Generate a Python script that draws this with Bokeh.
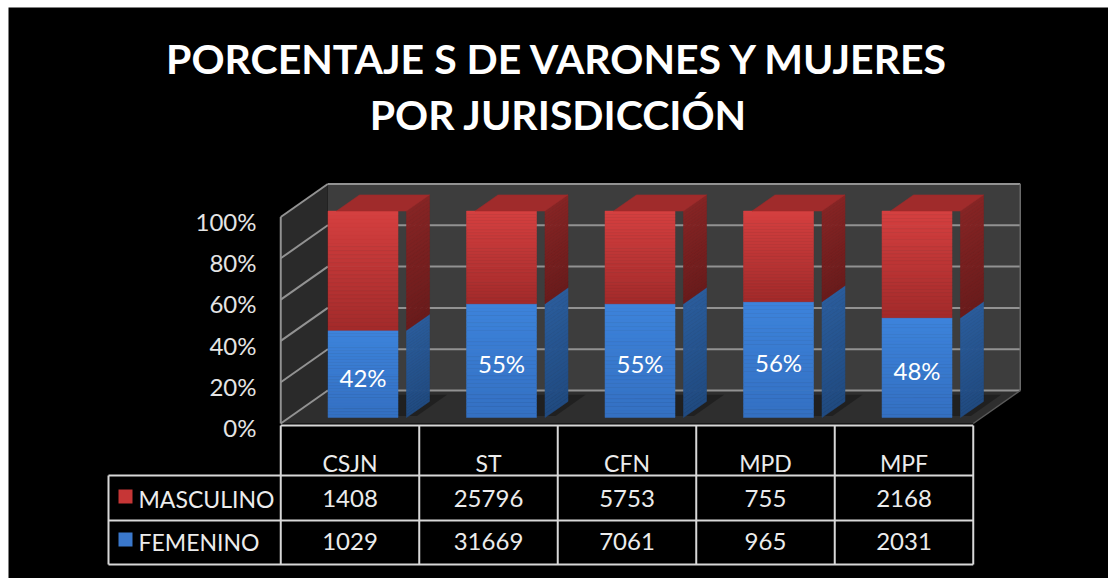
import numpy as np
from bokeh.plotting import figure
from bokeh.models import Range1d
from bokeh.core.properties import value
from bokeh.embed import file_html
from bokeh.resources import INLINE

# ---------------- data ----------------
categories = ["CSJN", "ST", "CFN", "MPD", "MPF"]
masculino = [1408, 25796, 5753, 755, 2168]
femenino = [1029, 31669, 7061, 965, 2031]
y_ticks = [0, 20, 40, 60, 80, 100]
series_names = ["MASCULINO", "FEMENINO"]
title_lines = ["PORCENTAJE S DE VARONES Y MUJERES", "POR JURISDICCIÓN"]

# ---------------- layout helpers ----------------
W_FIG, H_FIG = 1108, 578
ML, MT = 8, 7                  # white margin of the picture (left / top)
UX, UY = 138.5, 2.065          # px per category unit / px per percent
X0, Y0 = 349.5, 423.0          # canvas px of category 0 / 0% on front plane


def px(cx):
    return (cx - X0) / UX


def py(cy):
    return (Y0 - cy) / UY


DX, DY = 47.0 / UX, 33.0 / UY   # full depth offset (oblique projection)
ZF, ZB = 0.18, 0.67             # bar front / back depth
HALF_W = 35.0 / UX
SHIFT = 0.033


def proj(x, v, z):
    return x + z * DX, v + z * DY


def lerp_color(c1, c2, t):
    a = [int(c1[k:k + 2], 16) for k in (1, 3, 5)]
    b = [int(c2[k:k + 2], 16) for k in (1, 3, 5)]
    return "#%02x%02x%02x" % tuple(int(round(a[k] + (b[k] - a[k]) * t)) for k in range(3))


p = figure(width=W_FIG, height=H_FIG, output_backend="svg", toolbar_location=None,
           x_range=Range1d(px(ML), px(W_FIG)), y_range=Range1d(py(H_FIG), py(MT)),
           x_axis_location=None, y_axis_location=None, title=None,
           background_fill_color="#000000", border_fill_color="#ffffff",
           outline_line_color=None, min_border_left=ML, min_border_top=MT,
           min_border_right=0, min_border_bottom=0)
p.grid.visible = False

n_cat = len(categories)
xl, xr = -0.5, n_cat - 0.5
vmax = y_ticks[-1]

# ---------------- walls & floor ----------------
def poly(pts):
    xs, ys = zip(*[proj(*q) for q in pts])
    return list(xs), list(ys)

bx, by = poly([(xl, 0, 1), (xr, 0, 1), (xr, vmax, 1), (xl, vmax, 1)])
p.patch(bx, by, fill_color="#3d3d3d", line_color=None)
lx, ly = poly([(xl, 0, 0), (xl, 0, 1), (xl, vmax, 1), (xl, vmax, 0)])
p.patch(lx, ly, fill_color="#2a2a2a", line_color=None)
fx, fy = poly([(xl, 0, 0), (xr, 0, 0), (xr, 0, 1), (xl, 0, 1)])
p.patch(fx, fy, fill_color="#2e2e2e", line_color=None)

GRID = "#929292"
for v in y_ticks:
    x0, y0 = proj(xl, v, 1)
    x1, y1 = proj(xr, v, 1)
    p.line([x0, x1], [y0, y1], line_color=GRID, line_width=2)
    x2, y2 = proj(xl, v, 0)
    p.line([x2, x0], [y2, y0], line_color=GRID, line_width=2)
ex, ey = poly([(xl, 0, 0), (xl, vmax, 0)])
p.line(ex, ey, line_color=GRID, line_width=2)
ex, ey = poly([(xr, 0, 1), (xr, vmax, 1)])
p.line(ex, ey, line_color="#6a6a6a", line_width=1.5)
ex, ey = poly([(xr, 0, 0), (xr, 0, 1)])
p.line(ex, ey, line_color="#5a5a5a", line_width=1.5)

# ---------------- bars ----------------
RED_F = ("#d54040", "#a22a2a")
RED_S = ("#862424", "#6a1b1b")
RED_T = "#a02b2b"
BLUE_F = ("#3d83db", "#3470c2")
BLUE_S = ("#2a5c9b", "#204a80")
NB = 30

for i, cat in enumerate(categories):
    tot = masculino[i] + femenino[i]
    pf = femenino[i] / tot * 100.0
    c = i + SHIFT + ZF * DX
    xa, xb = c - HALF_W, c + HALF_W
    sx, sy = poly([(xa - ZF * DX + 0.02, 0, ZF + 0.05), (xb - ZF * DX + 0.12, 0, ZF + 0.05),
                   (xb - ZF * DX + 0.12, 0, ZB + 0.2), (xa - ZF * DX + 0.02, 0, ZB + 0.2)])
    p.patch(sx, sy, fill_color="#161616", fill_alpha=0.55, line_color=None)
    segs = [(0.0, pf, BLUE_F, BLUE_S), (pf, 100.0, RED_F, RED_S)]
    for v0, v1, cf, cs in segs:
        sxs, sys_ = [], []
        for k in range(NB):
            a = v0 + (v1 - v0) * k / NB
            b = v0 + (v1 - v0) * (k + 1) / NB
            qx, qy = poly([(xb, a, ZF), (xb, a, ZB), (xb, b, ZB), (xb, b, ZF)])
            sxs.append(qx)
            sys_.append(qy)
        cols = [lerp_color(cs[0], cs[1], 1 - (k + 0.5) / NB) for k in range(NB)]
        p.patches(sxs, sys_, fill_color=cols, line_color=cols, line_width=0.5)
        tops = [v0 + (v1 - v0) * (k + 1) / NB + ZF * DY for k in range(NB)]
        bots = [v0 + (v1 - v0) * k / NB + ZF * DY for k in range(NB)]
        colsf = [lerp_color(cf[0], cf[1], 1 - (k + 0.5) / NB) for k in range(NB)]
        p.quad(left=xa, right=xb, bottom=bots, top=tops, fill_color=colsf,
               line_color=colsf, line_width=0.5)
    tx, ty = poly([(xa, 100, ZF), (xb, 100, ZF), (xb, 100, ZB), (xa, 100, ZB)])
    p.patch(tx, ty, fill_color=RED_T, line_color=RED_T, line_width=0.5)
    p.text(x=[c], y=[pf / 2 + ZF * DY - 1.6], text=["%d%%" % round(pf)],
           text_font=value("Lato"), text_font_size="24px", text_color="#ffffff",
           text_align="center", text_baseline="middle")

# ---------------- y tick labels ----------------
p.text(x=[px(256)] * len(y_ticks), y=[v - 2.0 for v in y_ticks],
       text=["%d%%" % v for v in y_ticks], text_font=value("Lato"),
       text_font_size="24px", text_color="#e4e4e4", text_align="right",
       text_baseline="middle")

# ---------------- data table ----------------
LINE = "#d8d8d8"
row_top, row_hdr, row_m, row_f = py(425), py(475), py(520), py(564)
x_leg = px(108)
for yy, x_start in [(row_top, xl), (row_hdr, x_leg), (row_m, x_leg), (row_f, x_leg)]:
    p.line([x_start, xr], [yy, yy], line_color=LINE, line_width=2)
for k in range(n_cat + 1):
    xx = xl + k
    p.line([xx, xx], [row_top, row_f], line_color=LINE, line_width=2)
p.line([x_leg, x_leg], [row_hdr, row_f], line_color=LINE, line_width=2)

TXT = "#ececec"
cx = list(range(n_cat))
p.text(x=cx, y=[py(462)] * n_cat, text=categories, text_font=value("Lato"),
       text_font_size="23px", text_color=TXT, text_align="center", text_baseline="middle")
p.text(x=cx, y=[py(498)] * n_cat, text=[str(v) for v in masculino], text_font=value("Lato"),
       text_font_size="24px", text_color=TXT, text_align="center", text_baseline="middle")
p.text(x=cx, y=[py(541)] * n_cat, text=[str(v) for v in femenino], text_font=value("Lato"),
       text_font_size="24px", text_color=TXT, text_align="center", text_baseline="middle")

p.quad(left=[px(118)] * 2, right=[px(132)] * 2, top=[py(489), py(532)],
       bottom=[py(503), py(546)], fill_color=["#c63636", "#3a78cc"], line_color=None)
p.text(x=[px(138)] * 2, y=[py(498), py(541)], text=series_names, text_font=value("Lato"),
       text_font_size="23px", text_color=TXT, text_align="left", text_baseline="middle")

# ---------------- title ----------------
p.text(x=[px(558)] * 2, y=[py(58), py(114)], text=title_lines, text_font=value("Lato"),
       text_font_style="bold", text_font_size="41px", text_color="#ffffff",
       text_align="center", text_baseline="middle")

open("out.html", "w").write(file_html(p, INLINE))
